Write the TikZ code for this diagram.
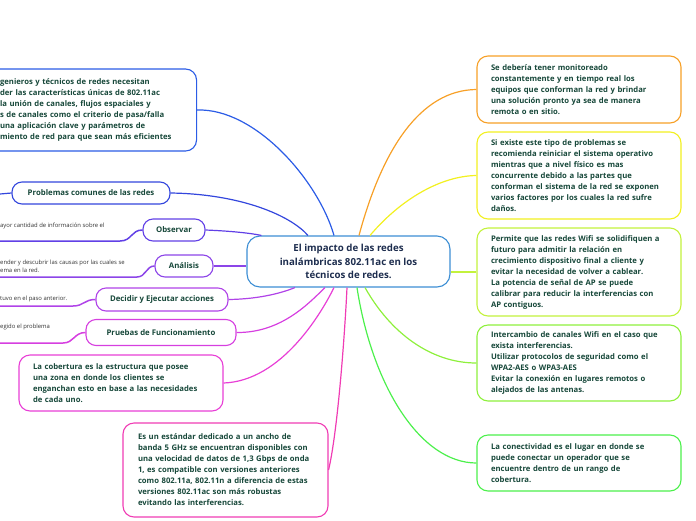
\documentclass[tikz,border=0pt]{standalone}
\usepackage{fontspec}
\setmainfont{Open Sans}
\definecolor{txt}{HTML}{17483A}
\definecolor{navy}{HTML}{1D2D4E}
\definecolor{small}{HTML}{333333}
\definecolor{cCtr}{HTML}{3C8ED4}
\definecolor{cTL}{HTML}{2B5CE6}
\definecolor{cProb}{HTML}{3346DD}
\definecolor{cObs}{HTML}{6140E6}
\definecolor{cAna}{HTML}{8C45E8}
\definecolor{cDec}{HTML}{B043E8}
\definecolor{cPru}{HTML}{D63FE0}
\definecolor{cCob}{HTML}{E83FD6}
\definecolor{cStd}{HTML}{F03CB4}
\definecolor{cOr}{HTML}{F7A027}
\definecolor{cYe}{HTML}{F2F020}
\definecolor{cYG}{HTML}{C3F23C}
\definecolor{cGa}{HTML}{8EF03C}
\definecolor{cGb}{HTML}{4CF04C}
\newcommand\bodyf{\fontsize{7.7}{11}\selectfont\bfseries}
\newcommand\labf{\fontsize{7.8}{10}\selectfont\bfseries}
\newcommand\smallf{\fontsize{5.9}{8}\selectfont}
\tikzset{
  bx/.style={draw, rounded corners=11pt, line width=1.1pt, fill=white, inner sep=0pt, align=left, text=txt, font=\bodyf},
  lab/.style={draw, rounded corners=10pt, line width=1.1pt, fill=white, inner sep=0pt, align=center, text=txt, font=\labf},
  conn/.style={line width=1.2pt},
  uline/.style={line width=1.5pt},
  stxt/.style={inner sep=0pt, anchor=west, align=left, text=small, font=\smallf}
}
\begin{document}
\begin{tikzpicture}[x=1pt,y=-1pt]
\clip (0,0) rectangle (696,520);
% center
\node[bx, draw=cCtr, align=center, text=navy, font=\fontsize{9.7}{13.5}\selectfont\bfseries, minimum width=203pt, minimum height=51pt, rounded corners=13pt] (ctr) at (348.5,261.5) {El impacto de las redes\\inalámbricas 802.11ac en los\\técnicos de redes.};
% top-left
\node[bx, draw=cTL, anchor=west, text width=185pt, minimum width=210pt, minimum height=82pt] (tl) at (-14,110) {\hspace*{1pt}genieros y técnicos de redes necesitan\\\hspace*{1pt}der las características únicas de 802.11ac\\\hspace*{1pt}la unión de canales, flujos espaciales y\\\hspace*{1pt}s de canales como el criterio de pasa/falla\\\hspace*{1pt}una aplicación clave y parámetros de\\\hspace*{1pt}miento de red para que sean más eficientes};
% labels
\node[lab, draw=cProb, minimum width=158pt, minimum height=22pt] (prob) at (91,193) {Problemas comunes de las redes};
\node[lab, draw=cObs, minimum width=62pt, minimum height=22pt] (obs) at (174,230) {Observar};
\node[lab, draw=cAna, minimum width=58pt, minimum height=22pt] (ana) at (184,266) {Análisis};
\node[lab, draw=cDec, minimum width=132pt, minimum height=23pt] (dec) at (162,299.5) {Decidir y Ejecutar acciones};
\node[lab, draw=cPru, minimum width=150pt, minimum height=26pt] (pru) at (161,332.5) {Pruebas de Funcionamiento};
% left boxes
\node[bx, draw=cCob, text width=176pt, minimum width=204pt, minimum height=56pt] (cob) at (121,383) {La cobertura es la estructura que posee\\una zona en donde los clientes se\\enganchan esto en base a las necesidades\\de cada uno.};
\node[bx, draw=cStd, text width=175pt, minimum width=205pt, minimum height=94pt] (std) at (225.5,470) {Es un estándar dedicado a un ancho de\\banda 5 GHz se encuentran disponibles con\\una velocidad de datos de 1,3 Gbps de onda\\1, es compatible con versiones anteriores\\como 802.11a, 802.11n a diferencia de estas\\versiones 802.11ac son más robustas\\evitando las interferencias.};
% right boxes
\node[bx, draw=cOr, text width=176pt, minimum width=204pt, minimum height=67pt] (r1) at (579,89.5) {Se debería tener monitoreado\\constantemente y en tiempo real los\\equipos que conforman la red y brindar\\una solución pronto ya sea de manera\\remota o en sitio.};
\node[bx, draw=cYe, text width=176pt, minimum width=204pt, minimum height=87pt] (r2) at (579,175.5) {Si existe este tipo de problemas se\\recomienda reiniciar el sistema operativo\\mientras que a nivel físico es mas\\concurrente debido a las partes que\\conforman el sistema de la red se exponen\\varios factores por los cuales la red sufre\\daños.};
\node[bx, draw=cYG, text width=176pt, minimum width=204pt, minimum height=88pt] (r3) at (579,272) {Permite que las redes Wifi se solidifiquen a\\futuro para admitir la relación en\\crecimiento dispositivo final a cliente y\\evitar la necesidad de volver a cablear.\\La potencia de señal de AP se puede\\calibrar para reducir la interferencias con\\AP contiguos.};
\node[bx, draw=cGa, text width=176pt, minimum width=204pt, minimum height=76pt] (r4) at (579,363) {Intercambio de canales Wifi en el caso que\\exista interferencias.\\Utilizar protocolos de seguridad como el\\WPA2-AES o WPA3-AES\\Evitar la conexión en lugares remotos o\\alejados de las antenas.};
\node[bx, draw=cGb, text width=176pt, minimum width=204pt, minimum height=56pt] (r5) at (579,463) {La conectividad es el lugar en donde se\\puede conectar un operador que se\\encuentre dentro de un rango de\\cobertura.};
% small child texts
\node[stxt] (tobs) at (0,226) {ayor cantidad de información sobre el};
\node[stxt] (tana) at (0,266) {ender y descubrir las causas por las cuales se\\ema en la red.};
\node[stxt] (tdec) at (0,299) {tuvo en el paso anterior.};
\node[stxt] (tpru) at (0,327) {egido el problema};
\coordinate (pL) at (0,194);
\coordinate (oL) at (0,241);
\coordinate (aL) at (0,277);
\coordinate (dL) at (0,306);
\coordinate (uL) at (0,343);
% underlines
\draw[uline, cObs] (oL) -- (120,241) .. controls (132,241) and (131,230) .. (obs.west);
\draw[uline, cAna] (aL) -- (137,277) .. controls (146,277) and (146,266) .. (ana.west);
\draw[uline, cDec] (dL) -- (73,306) .. controls (84,306) and (84,299.5) .. (dec.west);
\draw[uline, cPru] (uL) -- (63,343) .. controls (74,343) and (74,332.5) .. (pru.west);
\draw[conn, cProb] (prob.west) -- (pL);
% main connectors left
\draw[conn, cTL] (tl.east) .. controls (255,108) and (318,180) .. ([xshift=-14.5pt]ctr.north);
\draw[conn, cProb] (prob.east) .. controls (240,194) and (290,215) .. ([xshift=-40.5pt]ctr.north);
\draw[conn, cObs] (obs.east) .. controls (230,231) and (250,233) .. ([xshift=15pt]ctr.north west);
\draw[conn, cAna] (ana.east) -- (ana.east -| ctr.west);
\draw[conn, cDec] (dec.east) .. controls (262,299) and (284,292) .. ([xshift=-53.5pt]ctr.south);
\draw[conn, cPru] (pru.east) .. controls (282,333) and (310,302) .. ([xshift=-23.5pt]ctr.south);
\draw[conn, cCob] (cob.east) .. controls (282,381) and (322,312) .. ([xshift=-14.5pt]ctr.south);
\draw[conn, cStd] (std.east) .. controls (338,430) and (345,330) .. ([xshift=-1.5pt]ctr.south);
% right connectors
\draw[conn, cOr] ([xshift=10.5pt]ctr.north) .. controls (382,150) and (420,90) .. (r1.west);
\draw[conn, cYe] ([xshift=21.5pt]ctr.north) .. controls (400,200) and (440,176) .. (r2.west);
\draw[conn, cYG] (ctr.east |- r3.west) -- (r3.west);
\draw[conn, cGa] ([xshift=16.5pt]ctr.south) .. controls (390,332) and (430,363) .. (r4.west);
\draw[conn, cGb] ([xshift=8.5pt]ctr.south) .. controls (372,385) and (420,463) .. (r5.west);
\end{tikzpicture}
\end{document}
